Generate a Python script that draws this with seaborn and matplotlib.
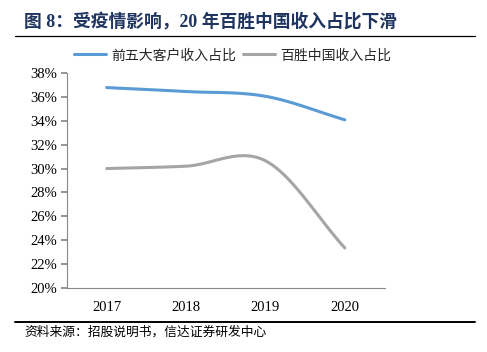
import numpy as np
import pandas as pd
import matplotlib
matplotlib.use("Agg")
import matplotlib.pyplot as plt
import matplotlib.ticker as mticker
from matplotlib.lines import Line2D
import seaborn as sns

# ── Data ────────────────────────────────────────────────────────────────────
years = ["2017", "2018", "2019", "2020"]
top5_share = [36.78, 36.45, 36.05, 34.08]     # 前五大客户收入占比 (%)
yum_share = [30.0, 30.2, 30.65, 23.35]         # 百胜中国收入占比 (%)
series_names = ["前五大客户收入占比", "百胜中国收入占比"]
colors = {"前五大客户收入占比": "#5B9BD5", "百胜中国收入占比": "#A5A5A5"}

sns.set_theme(style="white")
plt.rcParams["font.family"] = ["Noto Sans CJK SC", "DejaVu Sans"]
CJK = ["Noto Sans CJK SC", "DejaVu Sans"]
SERIF = ["Liberation Serif", "DejaVu Serif"]
SERIF_CJK = ["Liberation Serif", "Noto Sans CJK SC", "DejaVu Sans"]


# ── Helpers ──────────────────────────────────────────────────────────────────
def smooth(vals, n=40):
    """Catmull-Rom curve through the points (like Excel's smoothed line)."""
    p = np.asarray(vals, dtype=float)
    m = np.zeros_like(p)
    m[1:-1] = (p[2:] - p[:-2]) / 2
    m[0] = p[1] - p[0]
    m[-1] = p[-1] - p[-2]
    xs, ys = [], []
    for i in range(len(p) - 1):
        t = np.linspace(0, 1, n, endpoint=(i == len(p) - 2))
        h00 = 2 * t**3 - 3 * t**2 + 1
        h10 = t**3 - 2 * t**2 + t
        h01 = -2 * t**3 + 3 * t**2
        h11 = t**3 - t**2
        xs.append(i + t)
        ys.append(h00 * p[i] + h10 * m[i] + h01 * p[i + 1] + h11 * m[i + 1])
    return np.concatenate(xs), np.concatenate(ys)


frames = []
for name, vals in zip(series_names, [top5_share, yum_share]):
    x, y = smooth(vals)
    frames.append(pd.DataFrame({"x": x, "y": y / 100, "series": name}))
df = pd.concat(frames, ignore_index=True)

# ── Figure ───────────────────────────────────────────────────────────────────
fig = plt.figure(figsize=(4.87, 3.52), dpi=100)
ax = fig.add_axes([0.1376, 0.1818, 0.652, 0.6108])

sns.lineplot(data=df, x="x", y="y", hue="series", palette=colors,
             linewidth=2.2, sort=False, estimator=None, legend=False, ax=ax)

ax.set_xlim(-0.5, len(years) - 0.5)
ax.set_ylim(0.20, 0.38)
ax.yaxis.set_major_locator(mticker.MultipleLocator(0.02))
ax.yaxis.set_major_formatter(mticker.FuncFormatter(lambda v, _: f"{v*100:.0f}%"))
ax.set_xticks(range(len(years)))
ax.set_xticklabels(years)
ax.set_xticks(np.arange(-0.5, len(years)), minor=True)
ax.tick_params(axis="x", which="major", length=0, pad=9)
ax.tick_params(axis="x", which="minor", length=4, color="#888888", direction="out")
ax.tick_params(axis="y", length=4, color="#888888", direction="out", left=True, pad=3)
for lab in ax.get_xticklabels() + ax.get_yticklabels():
    lab.set_family(SERIF)
    lab.set_fontsize(10.5)
    lab.set_color("#000000")
ax.set_xlabel("")
ax.set_ylabel("")
for s in ["top", "right"]:
    ax.spines[s].set_visible(False)
for s in ["left", "bottom"]:
    ax.spines[s].set_color("#888888")
    ax.spines[s].set_linewidth(0.8)

handles = [Line2D([], [], color=colors[n], lw=2.2) for n in series_names]
ax.legend(handles, series_names, ncol=2, frameon=False, loc="center left",
          bbox_to_anchor=(0.14, 0.843), bbox_transform=fig.transFigure,
          prop={"family": CJK, "size": 10}, handlelength=2.3,
          handletextpad=0.4, columnspacing=0.5, borderaxespad=0)

# title, rules and source note
fig.text(0.05, 0.937, "图 8：受疫情影响，20 年百胜中国收入占比下滑",
         family=SERIF_CJK, fontsize=12.8, fontweight="bold", color="#1F3560",
         va="center", ha="left")
fig.add_artist(Line2D([0.03, 0.975], [0.899, 0.899], color="#000000", lw=0.9))
fig.add_artist(Line2D([0.03, 0.975], [0.085, 0.085], color="#000000", lw=1.4))
fig.text(0.05, 0.057, "资料来源：招股说明书，信达证券研发中心",
         family=CJK, fontsize=9.2, color="#000000", va="center", ha="left")

fig.savefig("out.png", dpi=100)
